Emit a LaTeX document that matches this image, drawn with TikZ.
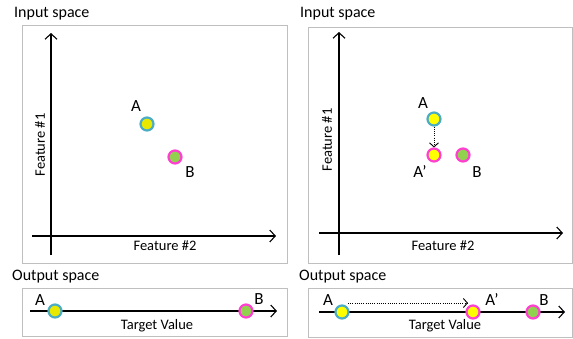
\documentclass[tikz,border=0pt]{standalone}
\usepackage{fontspec}
\setmainfont{Carlito}
\usetikzlibrary{arrows.meta}
\definecolor{cyanb}{HTML}{4BACC6}
\definecolor{magb}{HTML}{FF3FCF}
\definecolor{yelf}{HTML}{FFFF00}
\definecolor{yelf2}{HTML}{E8E800}
\definecolor{grnf}{HTML}{92D050}
\definecolor{boxc}{HTML}{BFBFBF}
\tikzset{
  panel/.style={draw=boxc, line width=0.9pt},
  axis/.style={line width=1.1pt, -{Straight Barb[length=5.5pt,width=12pt,line width=1.1pt]}},
  ptbase/.style={circle, minimum size=13pt, inner sep=0pt, line width=2.2pt},
  ptA/.style={ptbase, draw=cyanb, fill=yelf},
  ptAp/.style={ptbase, draw=magb, fill=yelf},
  ptB/.style={ptbase, draw=magb, fill=grnf},
  lab/.style={font=\fontsize{17}{19}\selectfont, inner sep=0pt},
  ttl/.style={font=\fontsize{16}{18}\selectfont, inner sep=0pt, anchor=west},
  axl/.style={font=\fontsize{14.5}{16}\selectfont, inner sep=0pt},
  dotarr/.style={line width=1pt, dash pattern=on 1pt off 1.2pt, -{Straight Barb[length=4pt,width=9pt,line width=0.9pt]}}
}
\begin{document}
\begin{tikzpicture}[x=1pt,y=-1pt]
\useasboundingbox (0,0) rectangle (573,338);
% ---------------- left input panel
\node[ttl] (t1) at (14,14) {Input space};
\draw[panel] (22,25) rectangle (287,263);
\coordinate (ly0) at (51,255); \coordinate (ly1) at (51,33);
\coordinate (lx0) at (32,236); \coordinate (lx1) at (276,236);
\draw[axis] (ly0) -- (ly1);
\draw[axis] (lx0) -- (lx1);
\node[axl, rotate=90] (f1l) at (40,145) {Feature \#1};
\node[axl] (f2l) at (165,246) {Feature \#2};
\node[ptA, fill=yelf2] (aL) at (147,124) {};
\node[lab] (aLl) at (136,106) {A};
\node[ptB] (bL) at (175,157) {};
\node[lab] (bLl) at (190,172) {B};
% ---------------- right input panel
\node[ttl] (t2) at (300,14) {Input space};
\draw[panel] (308,27) rectangle (572,263);
\coordinate (ry0) at (339,255); \coordinate (ry1) at (339,32);
\coordinate (rx0) at (319,233); \coordinate (rx1) at (563,233);
\draw[axis] (ry0) -- (ry1);
\draw[axis] (rx0) -- (rx1);
\node[axl, rotate=90] (f1r) at (327,140) {Feature \#1};
\node[axl] (f2r) at (443,246) {Feature \#2};
\node[ptA] (aR) at (434,119) {};
\node[lab] (aRl) at (423,103) {A};
\node[ptAp] (apR) at (434,155) {};
\node[lab] (apRl) at (420,172) {A’};
\node[ptB] (bR) at (463,155) {};
\node[lab] (bRl) at (477,172) {B};
\draw[dotarr] (aR) -- (apR);
% ---------------- left output panel
\node[ttl] (t3) at (12,277) {Output space};
\draw[panel] (22,288) rectangle (287,336);
\coordinate (lo0) at (30,311); \coordinate (lo1) at (277,311);
\draw[axis] (lo0) -- (lo1);
\node[axl] (tvl) at (157,326) {Target Value};
\node[ptA, fill=yelf2] (aLo) at (55,311) {};
\node[lab] (aLol) at (40,300) {A};
\node[ptB] (bLo) at (246,311) {};
\node[lab] (bLol) at (259,299) {B};
% ---------------- right output panel
\node[ttl] (t4) at (299,277) {Output space};
\draw[panel] (308,288) rectangle (572,337);
\coordinate (ro0) at (319,312); \coordinate (ro1) at (565,312);
\draw[axis] (ro0) -- (ro1);
\node[axl] (tvr) at (445,326) {Target Value};
\node[ptA] (aRo) at (342,312) {};
\node[lab] (aRol) at (328,300) {A};
\node[ptAp] (apRo) at (473,312) {};
\node[lab] (apRol) at (492,300) {A’};
\node[ptB] (bRo) at (533,312) {};
\node[lab] (bRol) at (544,300) {B};
\coordinate (ds) at (348,303); \coordinate (de) at (468,303);
\draw[dotarr] (ds) -- (de);
\end{tikzpicture}
\end{document}
